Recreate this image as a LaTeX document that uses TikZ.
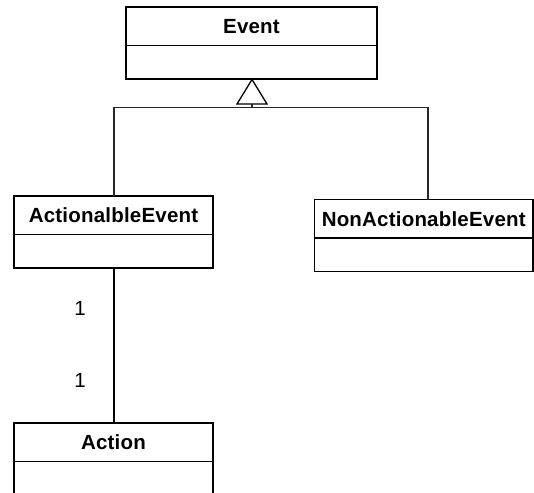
\documentclass[tikz,border=0pt]{standalone}
\usepackage{fontspec}
\setmainfont[LetterSpace=1]{Liberation Sans}
\begin{document}
\begin{tikzpicture}[x=1pt,y=-1pt,
  classname/.style={draw=black, line width=1.9pt, rectangle, inner sep=0pt, outer sep=0pt,
    anchor=north west, minimum height=38.5pt,
    font=\fontsize{20.5}{23}\selectfont\bfseries},
  classbody/.style={draw=black, line width=1.9pt, rectangle, inner sep=0pt, outer sep=0pt,
    anchor=north west, minimum height=33.5pt},
  link/.style={draw=black!85, line width=1.3pt},
  mult/.style={font=\fontsize{20.5}{23}\selectfont, inner sep=0pt}]
  \clip (0,0) rectangle (534,492);
  \fill[white] (0,0) rectangle (534,492);

  % Event
  \node[classname, minimum width=251pt] (event) at (126,7) {Event};
  \node[classbody, minimum width=251pt] (eventb) at (event.south west) {};

  % ActionalbleEvent
  \node[classname, minimum width=199pt] (act) at (14,196) {ActionalbleEvent};
  \node[classbody, minimum width=199pt] (actb) at (act.south west) {};

  % NonActionableEvent
  \node[classname, minimum width=218.5pt] (non) at (314.5,199.5) {NonActionableEvent};
  \node[classbody, minimum width=218.5pt] (nonb) at (non.south west) {};

  % Action
  \node[classname, minimum width=199pt] (action) at (14,423) {Action};
  \node[classbody, minimum width=199pt] (actionb) at (action.south west) {};

  % generalisation: triangle under Event, joined to both subclasses
  \coordinate (apex) at (252,79.5);
  \coordinate (tl) at (237,104);
  \coordinate (tr) at (267,104);
  \coordinate (base) at (252,104);
  \coordinate (bus) at (252,107.5);
  \draw[draw=black, line width=1.3pt, line join=miter] (apex) -- (tl) -- (tr) -- cycle;
  \draw[link] (base) -- (bus);
  \draw[link] (act.north -| 114,0) |- (bus) -| (non.north -| 428,0);

  % association ActionalbleEvent -- Action
  \draw[link, draw=black] (actb.south -| 114,0) -- (action.north -| 114,0);
  \node[mult] (m1) at (80,308) {1};
  \node[mult] (m2) at (80,380) {1};
\end{tikzpicture}
\end{document}
